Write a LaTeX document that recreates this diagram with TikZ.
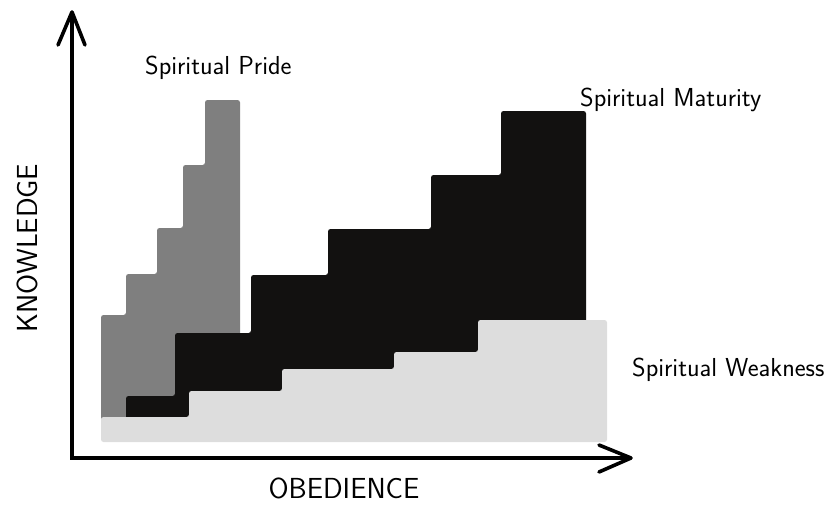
\documentclass[tikz,border=0pt]{standalone}
\usepackage{fontspec}
\definecolor{pridegray}{HTML}{7F7F7F}
\definecolor{maturityblack}{HTML}{121110}
\definecolor{weaklight}{HTML}{DDDDDD}
\begin{document}
\begin{tikzpicture}[x=1pt,y=-1pt,
  axisline/.style={line width=3.6pt,black},
  axistip/.style={line width=3.6pt,black,line cap=round,line join=round},
  stairs/.style={rounded corners=2.5pt},
  lbl/.style={font=\sffamily\fontsize{26}{30}\selectfont,inner sep=0pt},
  axlbl/.style={font=\sffamily\fontsize{29}{33}\selectfont,inner sep=0pt}]
\useasboundingbox (0,0) rectangle (835,506);
% spiritual pride (gray stairs)
\fill[pridegray,stairs] (101,420) -- (101,315) -- (126,315) -- (126,274) -- (157,274) -- (157,228)
  -- (183,228) -- (183,165) -- (205,165) -- (205,100) -- (240,100) -- (240,420) -- cycle;
% spiritual maturity (black stairs)
\fill[maturityblack,stairs] (126,420) -- (126,396) -- (175,396) -- (175,333) -- (251,333) -- (251,275)
  -- (328,275) -- (328,229) -- (431,229) -- (431,175) -- (501,175) -- (501,111) -- (586,111)
  -- (586,420) -- cycle;
% spiritual weakness (light stairs)
\fill[weaklight,stairs] (101,442) -- (101,417) -- (189,417) -- (189,391) -- (282,391) -- (282,369)
  -- (394,369) -- (394,352) -- (478,352) -- (478,320) -- (607,320) -- (607,442) -- cycle;
% axes
\coordinate (origin) at (72,458);
\coordinate (ytip) at (72,12);
\coordinate (xtip) at (631,458);
\draw[axisline] (ytip) -- (origin) -- (xtip);
\draw[axistip] (58,45) -- (ytip) -- (85,45);
\draw[axistip] (599,445) -- (xtip) -- (599,472);
% labels
\node[lbl,anchor=west] (pride) at (145,68) {Spiritual Pride};
\node[lbl,anchor=west] (maturity) at (580,100) {Spiritual Maturity};
\node[lbl,anchor=west] (weakness) at (632,370) {Spiritual Weakness};
\node[axlbl,anchor=base] (obedience) at (344,498) {OBEDIENCE};
\node[axlbl,rotate=90] (knowledge) at (27,248) {KNOWLEDGE};
\end{tikzpicture}
\end{document}
